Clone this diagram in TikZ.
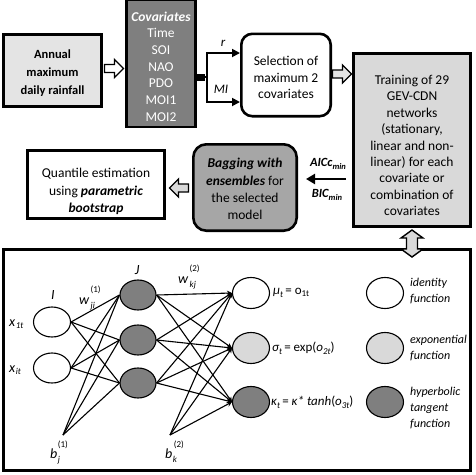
\documentclass[tikz,border=0pt]{standalone}
\usepackage{fontspec}
\setmainfont{Carlito}
\usetikzlibrary{arrows.meta,calc,shapes.geometric}
\definecolor{lg}{HTML}{D9D9D9}
\definecolor{lgb}{HTML}{E4E4E4}
\definecolor{dg}{HTML}{7F7F7F}
\definecolor{mg}{HTML}{A6A6A6}
\newcommand{\smallsub}{\fontsize{9}{9}\selectfont}
\begin{document}
\begin{tikzpicture}[x=1pt,y=-1pt,
  box/.style={draw, line width=2.6pt, inner sep=0pt},
  txt/.style={align=center, inner sep=0pt, font=\fontsize{13.5}{16.4}\selectfont},
  neuron/.style={draw, line width=1.1pt, ellipse, inner sep=0pt, minimum width=37pt, minimum height=31pt},
  link/.style={line width=1.1pt},
  olink/.style={line width=1.1pt, -{Stealth[length=5pt,width=5pt]}},
  lbl/.style={inner sep=0pt, font=\fontsize{14}{14}\selectfont\itshape},
  eq/.style={inner sep=0pt, anchor=west, font=\fontsize{13}{14}\selectfont},
  leg/.style={inner sep=0pt, anchor=west, align=left, font=\fontsize{12}{16}\selectfont\itshape},
  pics/harrow/.style={code={\filldraw[fill=#1, line width=1.4pt, line join=miter] (-9.5,-4) -- (0.5,-4) -- (0.5,-9) -- (9.5,0) -- (0.5,9) -- (0.5,4) -- (-9.5,4) -- cycle;}},
  pics/varrow/.style={code={\filldraw[fill=#1, line width=1.4pt, line join=miter] (0,-13.5) -- (11,-5.5) -- (5.5,-5.5) -- (5.5,5.5) -- (11,5.5) -- (0,13.5) -- (-11,5.5) -- (-5.5,5.5) -- (-5.5,-5.5) -- (-11,-5.5) -- cycle;}},
]
\useasboundingbox (0,0) rectangle (475,475);

% ---------- upper boxes ----------
\node[box, fill=lgb, minimum width=98.4pt, minimum height=72.4pt] (annual) at (52.5,70.5) {};
\node[txt, font=\bfseries\fontsize{12.5}{18}\selectfont] (annualt) at (52.5,73.5) {Annual\\maximum\\daily rainfall};

\node[box, fill=dg, minimum width=69.4pt, minimum height=127pt] (cov) at (161,63.5) {};
\node[txt, text=white, font=\fontsize{13.5}{16.7}\selectfont] (covt) at (161,66.5) {\textbf{\textit{Covariates}}\\Time\\SOI\\NAO\\PDO\\MOI1\\MOI2};

\node[box, rounded corners=11pt, fill=white, minimum width=89.4pt, minimum height=82.4pt] (sel) at (286,75) {};
\node[txt, font=\fontsize{13.5}{16.5}\selectfont] (selt) at (286,77.5) {Selection of\\maximum 2\\covariates};

\node[box, fill=lg, minimum width=117.4pt, minimum height=173.4pt] (train) at (412,140) {};
\node[txt] (traint) at (412,145.5) {Training of 29\\GEV-CDN\\networks\\(stationary,\\linear and non-\\linear) for each\\covariate or\\combination of\\covariates};

\node[box, rounded corners=13pt, fill=mg, minimum width=103.4pt, minimum height=86.4pt] (bag) at (245,187.5) {};
\node[txt, font=\fontsize{13.5}{17.3}\selectfont] (bagt) at (245,189) {\textbf{\textit{Bagging with}}\\\textbf{\textit{ensembles}} for\\the selected\\model};

\node[box, fill=white, minimum width=137.4pt, minimum height=68.4pt] (quant) at (96,184.5) {};
\node[txt, font=\fontsize{13.5}{17.5}\selectfont] (quantt) at (96,191.5) {Quantile estimation\\using \textbf{\textit{parametric}}\\\textbf{\textit{bootstrap}}};

\node[box, minimum width=467.4pt, minimum height=221.4pt] (net) at (237,360) {};

% ---------- block arrows ----------
\pic at ($(annual.east)!0.5!(cov.west)+(0,1.5)$) {harrow=white};
\pic at ($(sel.east |- 0,74)!0.5!(train.west |- 0,74)$) {harrow=lgb};
\pic[xscale=-1] at ($(quant.east |- 0,188)!0.5!(bag.west |- 0,188)$) {harrow=lg};
\pic at ($(train.south)+(0,15.5)$) {varrow=lg};

% ---------- r / MI connector ----------
\node[fill=black, inner sep=0pt, minimum width=8pt, minimum height=7pt] (sq) at (201,77) {};
\draw[line width=1.8pt, -{Triangle[length=8pt,width=8pt]}] (sq.east) -- ++(2,0) |- (sel.west |- 0,53);
\draw[line width=1.8pt, -{Triangle[length=8pt,width=8pt]}] (sq.east) -- ++(2,0) |- (sel.west |- 0,102);
\node[inner sep=0pt, font=\fontsize{13}{14}\selectfont\itshape] (rl) at (223,43) {r};
\node[inner sep=0pt, font=\fontsize{13}{14}\selectfont\itshape] (mil) at (221,89) {MI};

% ---------- AIC / BIC arrow ----------
\draw[line width=2.6pt, -{Triangle[length=9pt,width=10pt]}] ($(train.west |- 0,179)+(-6,0)$) -- ($(bag.east |- 0,179)+(8,0)$);
\node[inner sep=0pt, font=\bfseries\itshape\fontsize{12.5}{14}\selectfont] (aic) at (328,164) {AICc\raisebox{-3pt}{\fontsize{8.5}{9}\selectfont min}};
\node[inner sep=0pt, font=\bfseries\itshape\fontsize{12.5}{14}\selectfont] (bic) at (327,195) {BIC\raisebox{-3pt}{\fontsize{8.5}{9}\selectfont min}};

% ---------- network ----------
\node[neuron, minimum height=30pt] (i1) at (52,322) {};
\node[neuron, minimum height=30pt] (i2) at (52,368) {};
\node[neuron, fill=dg, minimum width=36pt, minimum height=30pt] (h1) at (138,295) {};
\node[neuron, fill=dg, minimum width=36pt, minimum height=30pt] (h2) at (138,340) {};
\node[neuron, fill=dg, minimum width=36pt, minimum height=30pt] (h3) at (138,383) {};
\node[neuron] (o1) at (251,293) {};
\node[neuron, fill=lg] (o2) at (251,348) {};
\node[neuron, fill=dg] (o3) at (251,402) {};
\node[neuron] (g1) at (385,293) {};
\node[neuron, fill=lg] (g2) at (385,348) {};
\node[neuron, fill=dg] (g3) at (385,402) {};
\coordinate (b1) at (63,435);
\coordinate (b2) at (170,435);

\foreach \h in {h1,h2,h3} {
  \draw[link] (i1.east) -- (\h.west);
  \draw[link] (i2.east) -- (\h.west);
  \draw[link] (b1) -- (\h.west);
}
\foreach \o in {o1,o2,o3} {
  \foreach \h in {h1,h2,h3} { \draw[olink] (\h.east) -- (\o.west); }
  \draw[olink] (b2) -- (\o.west);
}

% labels
\node[lbl] (il) at (53,295) {I};
\node[lbl] (jl) at (137,270) {J};
\node[lbl, anchor=base west] (w1) at (79,304) {w\hspace{1.5pt}\rlap{\raisebox{-4pt}{\smallsub ji}}\raisebox{12pt}{\smallsub\upshape (1)}};
\node[lbl, anchor=base west] (w2) at (178,283) {w\hspace{1.5pt}\rlap{\raisebox{-4pt}{\smallsub kj}}\raisebox{12pt}{\smallsub\upshape (2)}};
\node[lbl, anchor=base west] (x1) at (9,326) {x\hspace{0.5pt}\raisebox{-2pt}{\smallsub 1t}};
\node[lbl, anchor=base west] (x2) at (9,372) {x\hspace{0.5pt}\raisebox{-2pt}{\smallsub it}};
\node[lbl, anchor=base west] (bj) at (50,458) {b\hspace{0.5pt}\rlap{\raisebox{-4pt}{\smallsub j}}\raisebox{11pt}{\smallsub\upshape (1)}};
\node[lbl, anchor=base west] (bk) at (165,458) {b\hspace{0.5pt}\rlap{\raisebox{-4pt}{\smallsub k}}\hspace{1pt}\raisebox{11pt}{\smallsub\upshape (2)}};

% equations
\node[eq] (e1) at (273,293) {{\itshape μ}\raisebox{-3pt}{\smallsub\itshape t}\,= o\raisebox{-2pt}{\smallsub 1t}};
\node[eq] (e2) at (272,348) {{\itshape σ}\raisebox{-3pt}{\smallsub\itshape t}\,= exp({\itshape o}\raisebox{-3pt}{\smallsub\itshape 2t})};
\node[eq] (e3) at (271,402) {{\itshape κ}\raisebox{-3pt}{\smallsub\itshape t}\,= {\itshape κ* tanh}({\itshape o}\raisebox{-3pt}{\smallsub\itshape 3t})};

% legend
\node[leg] (l1) at (410,291) {identity\\function};
\node[leg] (l2) at (410,348) {exponential\\function};
\node[leg] (l3) at (410,408) {hyperbolic\\tangent\\function};
\end{tikzpicture}
\end{document}
